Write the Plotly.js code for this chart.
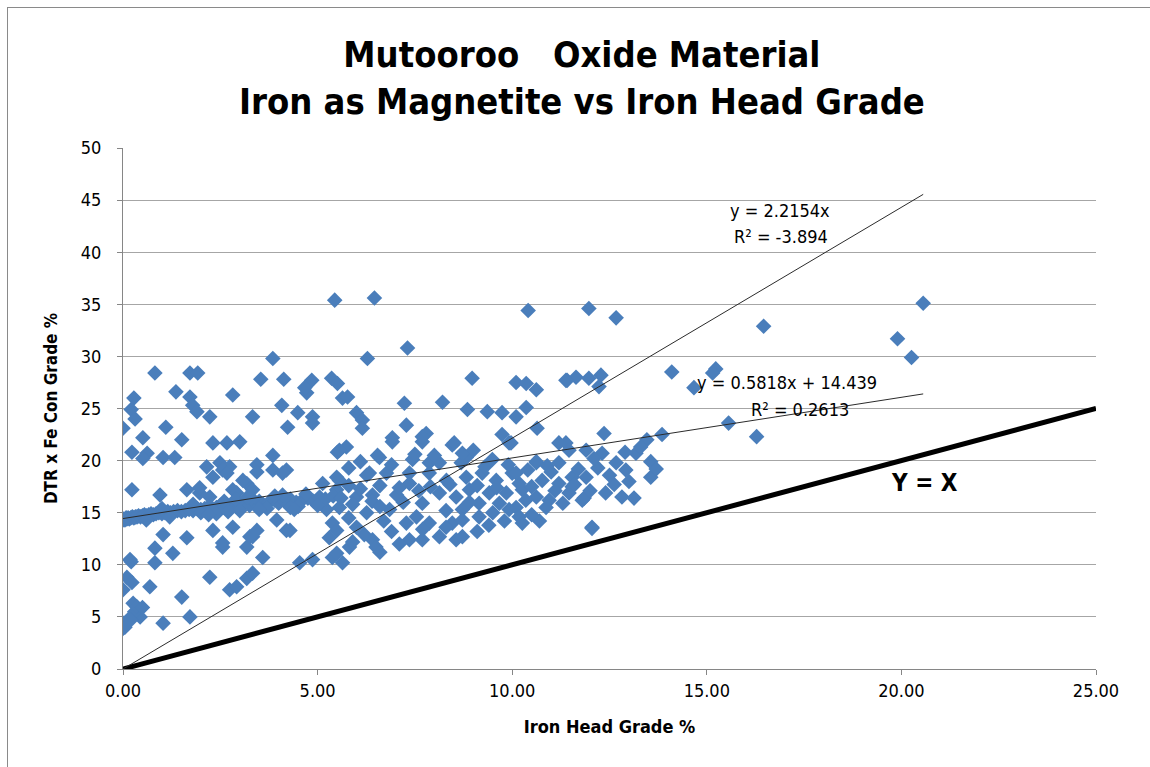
<!DOCTYPE html>
<html>
<head>
<meta charset="utf-8">
<script src="https://cdn.plot.ly/plotly-3.0.1.min.js"></script>
<style>
  html, body { margin: 0; padding: 0; background: #ffffff; }
  #wrap { position: relative; width: 1150px; height: 767px; overflow: hidden; }
  #chart { position: absolute; left: 0; top: 0; width: 1150px; height: 767px; }
  #frame { position: absolute; left: 7px; top: 7px; width: 1160px; height: 800px;
           border-left: 1px solid #8a8a8a; border-top: 1px solid #8a8a8a; pointer-events: none; }
</style>
</head>
<body>
<div id="wrap"><div id="chart"></div><div id="frame"></div></div>
<script>
// ---- Data ----
// Iron Head Grade % (x) and DTR x Fe Con Grade % (y), same order
const headGrade = [
  5.44, 6.46, 10.41, 11.97, 12.67, 16.46, 19.9, 20.26, 20.56, 7.31, 6.28, 3.85, 0.82, 1.72, 1.92,
  3.54, 4.13, 4.85, 5.36, 1.36, 2.82, 0.28, 1.72, 4.08, 0.21, 1.79, 1.90, 2.23, 3.33, 0.31,
  0.0, 4.49, 4.87, 4.72, 4.67, 4.87, 4.23, 1.10, 5.64, 0.51, 1.51, 0.23, 0.62, 1.03, 1.33,
  2.31, 2.67, 3.0, 3.85, 5.51, 5.74, 2.15, 2.49, 2.74, 3.44, 0.51, 2.56, 3.85, 4.2, 0.23,
  0.95, 1.64, 1.97, 2.82, 3.18, 5.13, 5.56, 1.97, 2.31, 2.67, 3.08, 3.44, 4.1, 2.23, 2.92, 3.33,
  // lower left
  1.03, 1.64, 0.82, 1.28, 0.18, 0.82, 2.31, 2.56, 2.82, 3.18, 3.33, 3.59, 4.2, 2.23, 2.74,
  2.92, 3.18, 3.33, 0.1, 0.23, 0.0, 0.69, 1.51, 0.26, 0.44, 0.0, 0.0, 1.03, 1.72, 0.3,
  0.15, 4.54, 4.87, 5.38, 5.64, 5.23, 5.38, 2.56, 3.26, 3.44, 4.29, 3.95, 0.21, 0.05, 0.2,
  0.35, 0.5,
  // middle cluster
  5.56, 6.92, 7.69, 8.46, 6.59, 7.44, 6.26, 6.77, 7.36, 7.87, 8.31, 8.69, 5.49, 6.0, 6.41,
  7.03, 5.56, 6.26, 6.85, 7.69, 8.13, 8.56, 7.54, 7.87, 8.46, 8.72, 5.49, 6.0, 6.41, 7.28,
  7.36, 7.69, 8.13, 8.56, 5.82, 6.5, 5.49, 9.92, 11.38, 11.9, 8.82, 9.49, 10.62, 11.2, 11.9,
  8.82, 9.23, 9.59, 10.0, 10.18, 10.77, 11.2, 11.54, 8.9, 9.41, 9.85, 10.26, 10.62, 10.95, 11.46,
  11.8, 9.15, 9.67, 10.1, 10.87, 8.72, 9.15, 9.92, 10.18, 10.26, 12.05, 8.72,
  // upper middle
  8.97, 10.1, 10.36, 10.62, 11.41, 11.64, 5.51, 5.77, 7.23, 8.21, 8.85, 9.36, 9.74, 10.1, 10.36,
  6.0, 6.15, 6.15, 7.28, 7.79, 7.69, 6.92, 8.51, 8.72, 9.74, 9.97, 10.64, 11.2, 11.46, 6.54,
  7.5, 7.87, 8.13, 5.49, 6.33, 7.36, 10.1, 10.62, 10.9,
  // right
  11.38, 11.97, 12.28, 12.23, 14.1, 15.23, 15.15, 14.67, 15.56, 16.28, 12.36, 13.46, 13.85, 13.18, 13.56,
  13.56, 12.82, 13.13, 12.05, 11.85, 12.62, 12.31, 12.67, 12.92, 11.54, 12.2, 12.5, 13.0, 12.4, 11.7,
  11.0, 10.5, 11.1, 10.35, 9.5, 9.8, 11.3, 11.6, 12.0, 12.9, 13.3, 12.1, 13.7, 10.7, 10.5,
  // band near the fitted line
  0.0, 0.02, 0.05, 0.08, 0.1, 0.13, 0.16, 0.2, 0.24, 0.28, 0.32, 0.36, 0.4, 0.45, 0.5,
  0.55, 0.6, 0.66, 0.72, 0.78, 0.85, 0.92, 1.0, 1.08, 1.15, 1.22, 1.3, 1.4, 1.5, 1.6,
  1.7, 1.8, 1.9, 2.0, 2.1, 2.2, 2.3, 2.4, 2.5, 2.6, 2.7, 2.8, 2.9, 3.0, 3.1,
  3.25, 3.4, 3.5, 3.6, 3.75, 3.9, 4.0, 4.15, 4.3, 4.45, 4.6, 4.75, 4.9, 5.05, 5.2,
  5.4, 5.6, 2.0, 1.2, 1.8, 2.4, 2.6, 3.0, 3.3, 3.7, 4.1, 4.5, 1.0, 0.6, 2.2, 2.9,
  3.5, 3.9, 4.3, 4.7, 5.0, 2.7, 3.2, 4.4,
  // fill of dense middle
  5.8, 6.1, 6.6, 7.1, 7.6, 6.4, 7.2, 5.9, 6.6, 7.9, 8.3, 8.9, 8.4, 9.1, 9.6,
  9.3, 9.9, 10.4, 8.0, 9.0, 6.9, 6.1, 5.8, 7.7, 6.9, 6.7, 5.8, 9.4, 9.1, 8.3,
  7.1, 6.2, 5.3, 5.9, 6.6
];
const conGrade = [
  35.4, 35.6, 34.4, 34.6, 33.7, 32.9, 31.7, 29.9, 35.1, 30.8, 29.8, 29.8, 28.4, 28.4, 28.4,
  27.8, 27.8, 27.7, 27.9, 26.6, 26.3, 26.0, 26.1, 25.3, 24.9, 25.3, 24.7, 24.2, 24.2, 24.0,
  23.1, 24.6, 24.2, 26.5, 27.0, 23.6, 23.2, 23.2, 26.0, 22.2, 22.0, 20.8, 20.7, 20.3, 20.3,
  21.7, 21.7, 21.8, 20.5, 20.8, 21.3, 19.4, 19.8, 19.4, 19.6, 20.2, 19.1, 19.1, 19.1, 17.2,
  16.7, 17.2, 16.9, 17.2, 17.8, 17.8, 18.1, 17.4, 18.4, 18.8, 18.1, 18.9, 18.8, 16.5, 16.9, 17.2,
  // lower left
  12.9, 12.6, 11.6, 11.1, 10.5, 10.2, 13.3, 11.7, 13.6, 11.7, 12.7, 10.7, 13.3, 8.8, 7.6,
  7.9, 8.7, 9.2, 8.8, 8.3, 7.6, 7.9, 6.9, 6.3, 5.0, 4.4, 3.9, 4.4, 5.0, 5.5,
  4.8, 10.2, 10.5, 10.7, 10.2, 15.3, 14.0, 12.1, 12.7, 13.3, 13.3, 14.3, 10.3, 4.0, 4.7,
  6.0, 5.9,
  // middle cluster
  21.0, 21.8, 21.8, 21.5, 20.3, 20.1, 18.6, 18.8, 17.8, 18.8, 18.1, 19.8, 17.2, 16.5, 16.7,
  16.7, 15.5, 15.0, 15.3, 15.9, 16.9, 16.5, 14.6, 14.0, 14.0, 15.3, 13.3, 13.6, 12.4, 14.0,
  12.4, 12.4, 12.7, 12.4, 11.7, 11.7, 11.1, 21.7, 21.7, 21.0, 20.3, 20.1, 19.8, 19.8, 18.4,
  18.4, 18.8, 18.1, 18.8, 17.8, 18.1, 17.8, 18.4, 17.2, 16.9, 16.9, 17.2, 16.5, 16.2, 16.9,
  16.2, 15.9, 15.9, 15.5, 15.5, 14.3, 14.6, 15.3, 14.6, 14.0, 13.6, 12.7,
  // upper middle
  27.9, 27.5, 27.4, 26.8, 27.7, 28.0, 27.4, 26.1, 25.5, 25.6, 24.9, 24.7, 24.6, 24.2, 25.1,
  24.6, 23.9, 23.1, 23.4, 22.6, 22.3, 22.2, 21.7, 20.7, 22.5, 21.7, 23.1, 21.7, 21.0, 20.5,
  20.6, 19.8, 19.8, 18.4, 18.8, 18.8, 18.8, 19.9, 19.5,
  // right
  27.7, 27.9, 28.2, 27.1, 28.5, 28.8, 28.4, 27.0, 23.6, 22.3, 22.6, 22.0, 22.5, 20.7, 19.9,
  18.4, 16.5, 16.4, 13.5, 16.4, 17.7, 20.7, 19.8, 19.1, 17.5, 19.3, 18.6, 18.0, 16.9, 19.2,
  18.9, 17.5, 17.1, 16.2, 15.0, 14.2, 15.9, 17.7, 17.1, 20.8, 21.3, 20.2, 19.2, 14.2, 14.8,
  // band near the fitted line
  14.3, 14.4, 14.3, 14.5, 14.4, 14.5, 14.4, 14.5, 14.6, 14.5, 14.6, 14.6, 14.7, 14.6, 14.7,
  14.8, 14.7, 14.8, 14.9, 14.8, 14.9, 15.0, 14.9, 15.0, 15.1, 15.0, 15.1, 15.2, 15.1, 15.2,
  15.3, 15.2, 15.4, 15.3, 15.4, 15.6, 15.4, 15.5, 15.7, 15.5, 15.6, 15.8, 15.6, 15.7, 15.9,
  15.7, 15.9, 16.1, 15.8, 16.0, 16.2, 15.9, 16.1, 16.3, 16.0, 16.2, 16.4, 16.1, 16.5, 16.3,
  16.6, 16.4, 15.0, 14.6, 15.8, 14.9, 16.1, 15.2, 16.4, 15.4, 16.7, 15.6, 15.4, 14.3, 14.8, 16.3,
  15.3, 16.6, 15.5, 16.8, 15.7, 15.1, 16.5, 15.3,
  // fill of dense middle
  17.6, 17.3, 17.6, 17.4, 17.1, 16.1, 16.0, 15.8, 15.6, 17.5, 15.2, 16.0, 17.7, 17.6, 17.4,
  19.4, 19.6, 19.1, 20.5, 21.0, 19.6, 19.9, 19.3, 13.4, 13.2, 14.2, 14.5, 13.8, 13.2, 13.6,
  12.0, 12.9, 12.6, 12.2, 11.2
];

// Fitted lines and reference line endpoints (from the chart's equations)
const fitX = [0, 20.56];
const fitOriginY = [0, 45.55];      // y = 2.2154x
const fitLinearY = [14.439, 26.40]; // y = 0.5818x + 14.439
const identityX = [0, 25];
const identityY = [0, 25];

const xTicks = [0, 5, 10, 15, 20, 25];
const yTicks = [0, 5, 10, 15, 20, 25, 30, 35, 40, 45, 50];

const FONT = '"Liberation Sans Narrow", "DejaVu Sans Condensed", "Open Sans", sans-serif';

const traces = [
  {
    x: headGrade, y: conGrade, type: 'scatter', mode: 'markers',
    marker: { symbol: 'diamond', size: 12, color: '#4a7ebb', line: { width: 0 } },
    hoverinfo: 'x+y', showlegend: false
  },
  {
    x: identityX, y: identityY, type: 'scatter', mode: 'lines',
    line: { color: '#000000', width: 5 }, showlegend: false, hoverinfo: 'skip'
  },
  {
    x: fitX, y: fitOriginY, type: 'scatter', mode: 'lines',
    line: { color: '#2b2b2b', width: 1 }, showlegend: false, hoverinfo: 'skip'
  },
  {
    x: fitX, y: fitLinearY, type: 'scatter', mode: 'lines',
    line: { color: '#2b2b2b', width: 1 }, showlegend: false, hoverinfo: 'skip'
  }
];

const layout = {
  width: 1150, height: 767,
  margin: { l: 123, r: 54, t: 148, b: 98 },
  paper_bgcolor: 'rgba(0,0,0,0)', plot_bgcolor: 'rgba(0,0,0,0)',
  font: { family: FONT, color: '#000000', size: 18 },
  title: {
    text: 'Mutooroo\u00A0\u00A0\u00A0Oxide Material<br>Iron as Magnetite vs Iron Head Grade',
    font: { family: FONT, size: 36, color: '#000000', weight: 'bold' },
    x: 0.506, xanchor: 'center', y: 0.912, yanchor: 'top'
  },
  xaxis: {
    range: [0, 25], tickvals: xTicks, tickformat: '.2f',
    showgrid: false, zeroline: false,
    showline: true, linecolor: '#868686', linewidth: 1,
    ticks: 'outside', ticklen: 5, tickcolor: '#868686',
    tickfont: { family: FONT, size: 18 },
    title: { text: 'Iron Head Grade %', font: { family: FONT, size: 18, weight: 'bold' }, standoff: 20 }
  },
  yaxis: {
    range: [0, 50], tickvals: yTicks,
    showgrid: true, gridcolor: '#a6a6a6', gridwidth: 1, zeroline: false,
    showline: true, linecolor: '#868686', linewidth: 1,
    ticks: 'outside', ticklen: 5, tickcolor: '#868686',
    ticklabelstandoff: 12,
    tickfont: { family: FONT, size: 18 },
    title: { text: 'DTR x Fe Con Grade %', font: { family: FONT, size: 17, weight: 'bold' }, standoff: 18 }
  },
  annotations: [
    { x: 16.88, y: 44.05, xref: 'x', yref: 'y', text: 'y = 2.2154x', showarrow: false,
      font: { family: FONT, size: 18 } },
    { x: 16.9, y: 41.55, xref: 'x', yref: 'y', text: 'R² = -3.894', showarrow: false,
      font: { family: FONT, size: 18 } },
    { x: 17.06, y: 27.45, xref: 'x', yref: 'y', text: 'y = 0.5818x + 14.439', showarrow: false,
      font: { family: FONT, size: 18 } },
    { x: 17.4, y: 24.95, xref: 'x', yref: 'y', text: 'R² = 0.2613', showarrow: false,
      font: { family: FONT, size: 18 } },
    { x: 20.6, y: 17.85, xref: 'x', yref: 'y', text: 'Y = X', showarrow: false,
      font: { family: FONT, size: 24, weight: 'bold' } }
  ]
};

Plotly.newPlot('chart', traces, layout, { displayModeBar: false, staticPlot: true });
</script>
</body>
</html>
